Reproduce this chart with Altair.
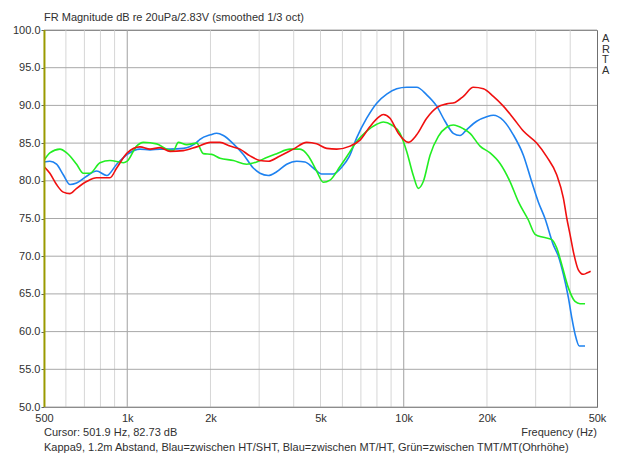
import altair as alt
import pandas as pd

# ---- data ----
red_f = [500, 525, 555, 587, 621, 656, 713, 775, 866, 916, 1000, 1112, 1209, 1314, 1428, 1595, 1783,
         2000, 2165, 2353, 2557, 2780, 3020, 3238, 3568, 3987, 4457, 4842, 5265, 5724, 6394, 6949,
         7552, 8093, 8436, 8921, 9560, 10390, 11140, 12110, 13160, 14300, 15330, 16430, 17850,
         19410, 21090, 22920, 24910, 27080, 30250, 32880, 35740, 37790, 38850, 39940, 41290,
         42800, 44620, 46130, 47430]
red_db = [81.9, 81.0, 79.5, 78.5, 78.3, 79.0, 79.9, 80.4, 80.4, 81.7, 83.7, 84.5, 84.2, 84.4, 83.9, 84.0, 84.5,
          85.1, 85.1, 84.6, 84.2, 83.3, 82.7, 82.6, 83.3, 84.2, 85.1, 84.9, 84.3, 84.2, 84.6, 85.4,
          87.2, 88.4, 88.8, 88.3, 86.3, 85.1, 86.1, 88.3, 89.7, 90.2, 90.4, 91.2, 92.4,
          92.2, 91.2, 89.9, 88.3, 86.6, 85.0, 83.2, 80.8, 77.7, 75.1, 72.9, 70.2,
          68.2, 67.6, 67.8, 68.0]

blue_f = [500, 525, 555, 587, 621, 656, 713, 775, 843, 916, 1000, 1112, 1209, 1314, 1428, 1595, 1783,
          1833, 2000, 2106, 2227, 2420, 2630, 2857, 3020, 3238, 3471, 3773, 4100, 4395, 4710, 5050,
          5565, 5967, 6350, 6758, 7346, 7985, 8679, 9432, 10250, 11140, 12110, 13160, 14100, 15110,
          15980, 16900, 18360, 19950, 21090, 22920, 24910, 27080, 29010, 30670, 32430, 34760,
          36250, 37790, 39400, 40500, 41630, 43150, 45260]
blue_db = [82.5, 82.6, 82.2, 80.8, 79.5, 79.7, 80.6, 81.3, 80.7, 82.2, 83.5, 84.2, 84.1, 84.2, 84.2, 84.3, 85.1,
           85.5, 86.1, 86.3, 86.0, 84.9, 83.5, 81.7, 81.0, 80.7, 81.2, 82.2, 82.6, 82.5, 81.7, 80.9,
           80.9, 81.8, 83.2, 85.7, 88.3, 90.3, 91.5, 92.2, 92.4, 92.4, 91.4, 89.9, 87.9, 86.3,
           86.0, 86.8, 87.9, 88.5, 88.7, 88.0, 86.1, 83.4, 79.9, 77.2, 75.0, 71.5,
           70.0, 67.6, 64.5, 61.9, 59.7, 58.1, 58.1]

green_f = [500, 525, 571, 604, 656, 694, 733, 797, 866, 968, 1000, 1081, 1144, 1278, 1389, 1468, 1530,
           1640, 1783, 1885, 2021, 2165, 2420, 2703, 2939, 3194, 3471, 3877, 4214, 4519, 4842, 5118,
           5413, 5883, 6350, 6758, 7346, 7985, 8436, 9045, 9695, 10250, 10830, 11290, 11770, 12450,
           13340, 14300, 15110, 16430, 17370, 18880, 20520, 22300, 24230, 26000, 28230, 29850,
           31990, 34300, 35740, 37270, 39400, 41630, 43410, 45260]
green_db = [82.7, 83.7, 84.2, 83.7, 82.2, 81.0, 81.0, 82.4, 82.7, 82.4, 82.6, 84.6, 85.1, 84.9, 84.2, 84.0, 85.1,
            84.8, 85.0, 83.6, 83.5, 83.0, 82.7, 82.2, 82.5, 83.1, 83.6, 84.2, 84.2, 83.3, 81.3, 79.8,
            80.1, 81.9, 83.7, 85.2, 86.6, 87.5, 87.8, 87.4, 86.3, 83.9, 80.7, 79.0, 79.9, 83.4,
            85.9, 87.1, 87.4, 86.9, 86.3, 84.6, 83.7, 82.3, 79.9, 77.2, 74.8, 72.9,
            72.5, 72.2, 71.1, 68.9, 65.8, 64.0, 63.7, 63.7]

x_tick_values = [500, 1000, 2000, 5000, 10000, 20000, 50000]
y_tick_values = [50, 55, 60, 65, 70, 75, 80, 85, 90, 95, 100]
grid_minor = [600, 700, 800, 900, 2000, 3000, 4000, 5000, 6000, 7000, 8000, 9000, 20000, 30000, 40000]
grid_major = [1000, 10000]
cursor_f = [501.9]

title_text = "FR Magnitude dB re 20uPa/2.83V (smoothed 1/3 oct)"
cursor_text = "Cursor: 501.9 Hz, 82.73 dB"
xlabel_text = "Frequency (Hz)"
note_text = "Kappa9, 1.2m Abstand, Blau=zwischen HT/SHT, Blau=zwischen MT/HT, Grün=zwischen TMT/MT(Ohrhöhe)"

FONT = "Liberation Sans"
TXT = "#303030"
W, H = 553, 377

xscale = alt.Scale(type="log", domain=[500, 50000], nice=False)
yscale = alt.Scale(domain=[50, 100], nice=False, zero=False)

xax = alt.Axis(
    values=x_tick_values, grid=False, domain=False, ticks=False, labelPadding=5,
    labelFont=FONT, labelFontSize=11, labelColor=TXT, title=None, labelFlush=False,
    labelOverlap=False,
    labelExpr="datum.value >= 1000 ? format(datum.value/1000, 'd') + 'k' : format(datum.value, 'd')")
yax = alt.Axis(
    values=y_tick_values, format=".1f", grid=False, domain=False, ticks=True, tickSize=3,
    tickColor="#606060", labelFont=FONT, labelFontSize=11, labelColor=TXT, labelPadding=1,
    title=None)

def X():
    return alt.X("f:Q", scale=xscale, axis=xax)

def Y():
    return alt.Y("db:Q", scale=yscale, axis=yax)

def curve(f, db, color):
    df = pd.DataFrame({"f": f, "db": db})
    return alt.Chart(df).mark_line(color=color, strokeWidth=1.6, interpolate="monotone", clip=True).encode(
        x=X(), y=Y())

minor = alt.Chart(pd.DataFrame({"f": grid_minor})).mark_rule(color="#D6D6D6", strokeWidth=1).encode(x=X())
major = alt.Chart(pd.DataFrame({"f": grid_major})).mark_rule(color="#A0A0A0", strokeWidth=1).encode(x=X())
hgrid = alt.Chart(pd.DataFrame({"db": y_tick_values})).mark_rule(color="#A8A8A8", strokeWidth=1).encode(y=Y())
cursor = alt.Chart(pd.DataFrame({"f": cursor_f})).mark_rule(color="#9A9A00", strokeWidth=2).encode(x=X())

def label(text, x, y, align="left", baseline="middle"):
    return alt.Chart(pd.DataFrame({"t": [text]})).mark_text(
        align=align, baseline=baseline, font=FONT, fontSize=11, color=TXT).encode(
        text="t:N", x=alt.value(x), y=alt.value(y))

title = label(title_text, 0, -12)
curs = label(cursor_text, 0, 403)
xlab = label(xlabel_text, W, 403, align="right")
note = label(note_text, 0, 418)
arta = alt.Chart(pd.DataFrame({"t": ["A\nR\nT\nA"]})).mark_text(
    align="left", baseline="top", font=FONT, fontSize=11, color=TXT, lineBreak="\n", lineHeight=10.5).encode(
    text="t:N", x=alt.value(W + 5), y=alt.value(3))

chart = alt.layer(
    minor, major, hgrid,
    curve(blue_f, blue_db, "#1E82F0"),
    curve(green_f, green_db, "#22EE22"),
    curve(red_f, red_db, "#F01010"),
    cursor, title, curs, xlab, note, arta,
).properties(
    width=W, height=H,
    autosize=alt.AutoSizeParams(type="none"),
    padding={"left": 44, "top": 30, "right": 43, "bottom": 48},
    background="white",
).configure_view(stroke="#707070", strokeWidth=1)

chart.save("out.html", embed_options={"renderer": "svg", "actions": False})
